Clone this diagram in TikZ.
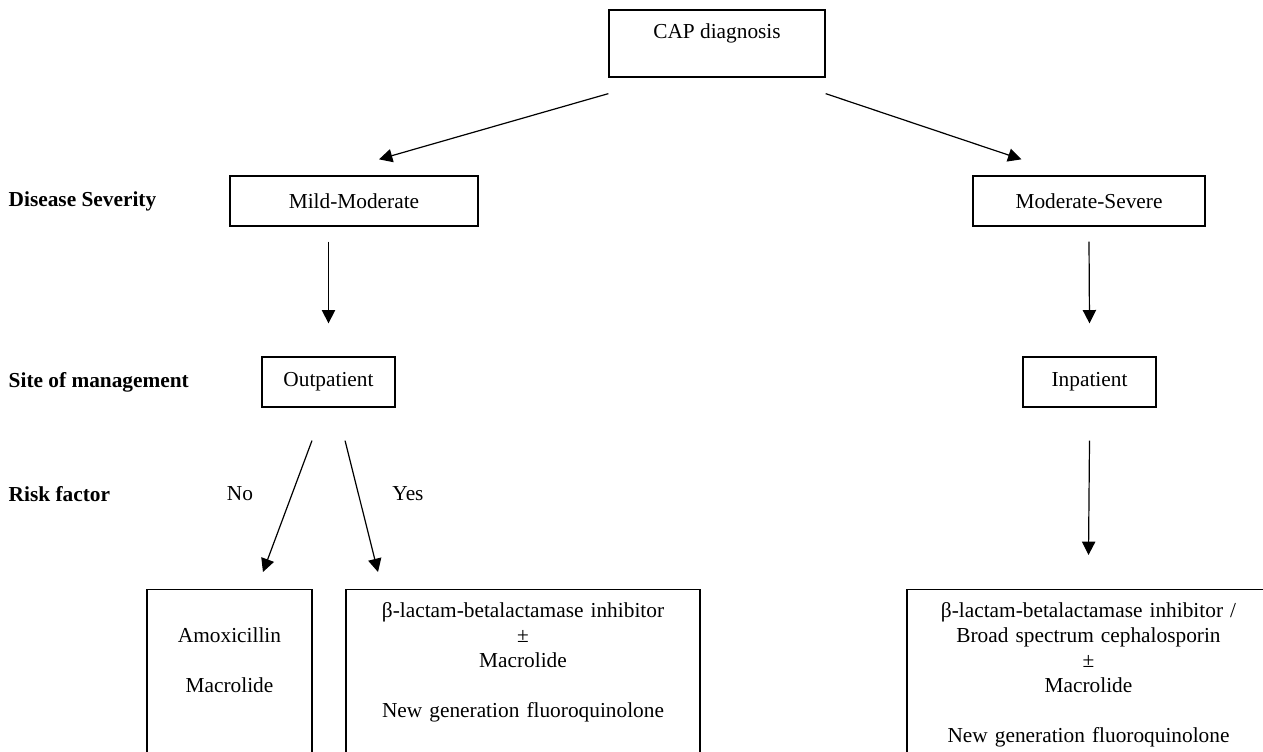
\documentclass[tikz,border=0pt]{standalone}
\usepackage{fontspec}
\setmainfont{Liberation Serif}
\usetikzlibrary{arrows.meta}
\newcommand{\figfont}{\fontsize{16}{18.75}\selectfont}
\tikzset{
  box/.style={draw, line width=0.95pt, inner sep=0pt, align=center},
  drugbox/.style={draw, line width=0.95pt, anchor=north, inner xsep=0pt, inner ysep=8pt, align=center},
  arr/.style={-{Triangle[length=10pt,width=10pt]}, line width=0.9pt},
  rowlabel/.style={anchor=west, font=\figfont\bfseries},
}
\begin{document}
\begin{tikzpicture}[x=0.75pt, y=-0.75pt, font=\figfont]
      \useasboundingbox (0,0) rectangle (1263,752);
      \clip (0,0) rectangle (1263,752);
      % boxes
      \node[box, minimum width=162pt, minimum height=50.25pt, text height=10pt, text depth=17pt] (cap) at (717,43.5) {CAP diagnosis};
      \node[box, minimum width=186pt, minimum height=37.5pt] (mild) at (354,201) {Mild-Moderate};
      \node[box, minimum width=174pt, minimum height=37.5pt] (modsev) at (1089,201) {Moderate-Severe};
      \node[box, minimum width=99.75pt, minimum height=37.5pt] (outp) at (328.5,382) {Outpatient};
      \node[box, minimum width=99.75pt, minimum height=37.5pt] (inp) at (1089.5,382) {Inpatient};
      \node[drugbox, text width=123.75pt] (amox) at (229.5,589)
        {\strut\\Amoxicillin\\\strut\\Macrolide\\\strut\\\strut\\\strut};
      \node[drugbox, text width=265.5pt] (riskbox) at (523,589)
        {\strut β-lactam-betalactamase inhibitor\\±\\Macrolide\\\strut\\New generation fluoroquinolone\\\strut\\\strut};
      \node[drugbox, text width=272.25pt] (inpbox) at (1088.5,589)
        {\strut β-lactam-betalactamase inhibitor /\\Broad spectrum cephalosporin\\±\\Macrolide\\\strut\\New generation fluoroquinolone\\\strut};
      % row labels
      \node[rowlabel] (sev) at (4,201) {Disease Severity};
      \node[rowlabel] (site) at (4,382) {Site of management};
      \node[rowlabel] (risk) at (4,494) {Risk factor};
      \node (no) at (240,494) {No};
      \node (yes) at (408,494) {Yes};
      % arrows
      \draw[arr] ([yshift=-12pt]cap.south west) -- ([xshift=18.75pt,yshift=12pt]mild.north);
      \draw[arr] ([yshift=-12pt]cap.south east) -- ([xshift=36.75pt,yshift=12pt]modsev.north west);
      \draw[arr] ([yshift=-11.25pt]outp.north |- mild.south) -- ([yshift=24.75pt]outp.north);
      \draw[arr] ([yshift=-11.25pt]modsev.south) -- ([yshift=24.75pt]inp.north);
      \draw[arr] ([yshift=-24.75pt]inp.south) -- ([yshift=25.5pt]inpbox.north);
      \draw[arr] ([xshift=-12.4pt,yshift=-24.75pt]outp.south) -- ([xshift=25.1pt,yshift=12.75pt]amox.north);
      \draw[arr] ([xshift=12.4pt,yshift=-24.75pt]outp.south) -- ([xshift=-108.75pt,yshift=12.75pt]riskbox.north);
\end{tikzpicture}
\end{document}
